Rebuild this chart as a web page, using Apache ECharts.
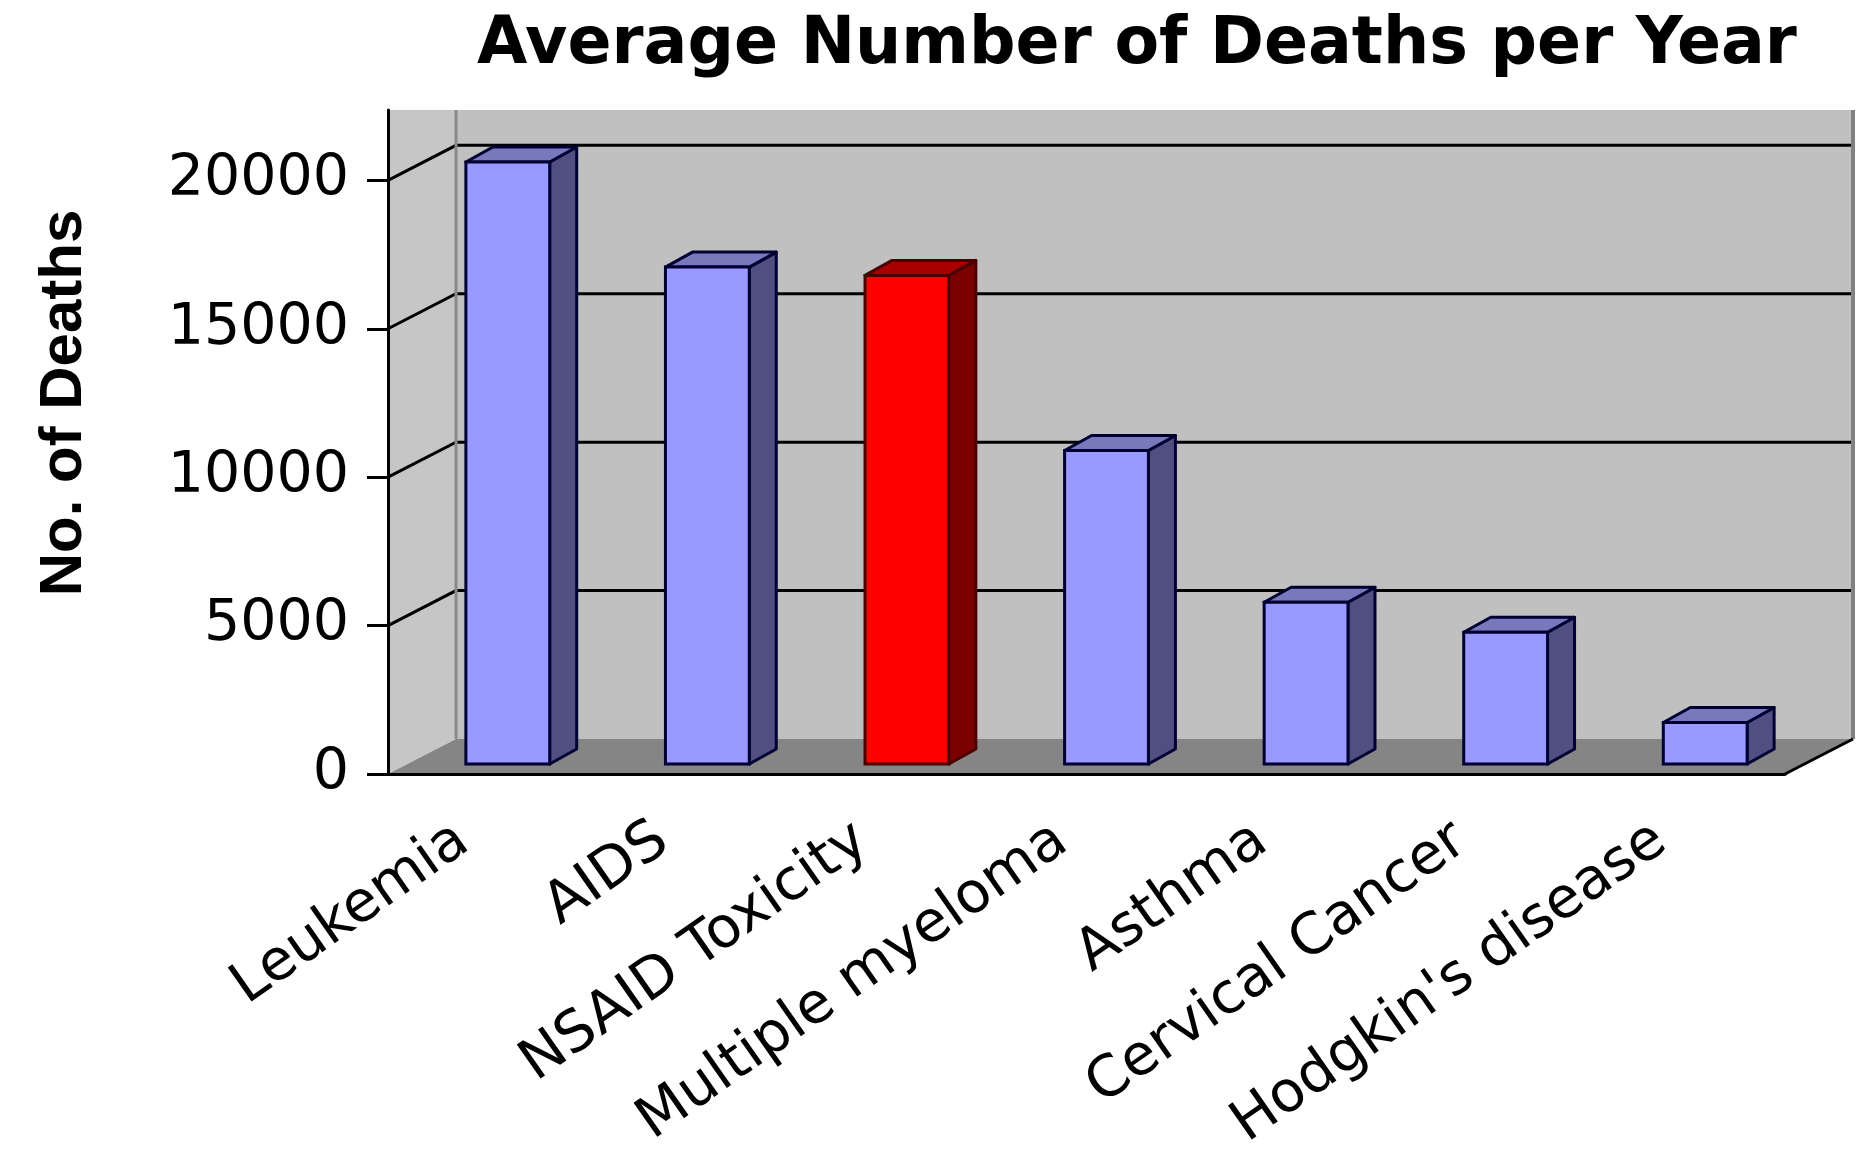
<!DOCTYPE html>
<html>
<head>
<meta charset="utf-8">
<title>Average Number of Deaths per Year</title>
<script src="https://cdn.jsdelivr.net/npm/echarts@6/dist/echarts.min.js"></script>
<style>
  html, body { margin: 0; padding: 0; background: #fff; }
  #chart { width: 1870px; height: 1150px; }
</style>
</head>
<body>
<div id="chart"></div>
<script>
const categories = [
  'Leukemia',
  'AIDS',
  'NSAID Toxicity',
  'Multiple myeloma',
  'Asthma',
  'Cervical Cancer',
  "Hodgkin's disease"
];
const deaths = [20280, 16740, 16460, 10560, 5450, 4440, 1400];
const highlightIndex = 2; // NSAID bar is drawn red
const yTicks = [0, 5000, 10000, 15000, 20000];
const yMax = 22370;

// fake 3d: depth of the walls and of the columns, in px
const WALL_DX = 68, WALL_DY = -35;
const BAR_OFF_DX = 20, BAR_OFF_DY = -10;
const BAR_DX = 27, BAR_DY = -15;

const chart = echarts.init(document.getElementById('chart'));

function renderFrame(params, api) {
  const cs = params.coordSys;
  const x0 = cs.x, x1 = cs.x + cs.width;
  const yTop = cs.y, yBase = cs.y + cs.height;
  const children = [];
  // left side wall
  children.push({
    type: 'polygon',
    shape: { points: [[x0, yTop], [x0 + WALL_DX, yTop], [x0 + WALL_DX, yBase + WALL_DY], [x0, yBase]] },
    style: { fill: '#c6c6c6' }
  });
  // back wall
  children.push({
    type: 'rect',
    shape: { x: x0 + WALL_DX, y: yTop, width: cs.width, height: yBase + WALL_DY - yTop },
    style: { fill: '#c0c0c0' }
  });
  // floor
  children.push({
    type: 'polygon',
    shape: { points: [[x0, yBase], [x1, yBase], [x1 + WALL_DX, yBase + WALL_DY], [x0 + WALL_DX, yBase + WALL_DY]] },
    style: { fill: '#858585' }
  });
  // gridlines on side wall + back wall
  yTicks.slice(1).forEach(v => {
    const y = api.coord([0, v])[1];
    children.push({
      type: 'polyline',
      shape: { points: [[x0, y], [x0 + WALL_DX, y + WALL_DY], [x1 + WALL_DX, y + WALL_DY]] },
      style: { stroke: '#000', lineWidth: 3, fill: null }
    });
  });
  // back corner edges
  children.push({
    type: 'line',
    shape: { x1: x0 + WALL_DX, y1: yTop, x2: x0 + WALL_DX, y2: yBase + WALL_DY },
    style: { stroke: '#8a8a8a', lineWidth: 3 }
  });
  children.push({
    type: 'line',
    shape: { x1: x1 + WALL_DX, y1: yTop, x2: x1 + WALL_DX, y2: yBase + WALL_DY },
    style: { stroke: '#808080', lineWidth: 4 }
  });
  children.push({
    type: 'line',
    shape: { x1: x1, y1: yBase, x2: x1 + WALL_DX, y2: yBase + WALL_DY },
    style: { stroke: '#000', lineWidth: 3 }
  });
  return { type: 'group', children };
}

function renderColumn(params, api) {
  const idx = api.value(0);
  const base = api.coord([idx, 0]);
  const top = api.coord([idx, api.value(1)]);
  const w = api.size([1, 0])[0] * 0.42;
  const red = params.dataIndex === highlightIndex;
  const fl = base[0] + BAR_OFF_DX - w / 2, fr = fl + w;
  const ft = top[1] + BAR_OFF_DY, fb = base[1] + BAR_OFF_DY;
  const stroke = red ? '#4a0000' : '#000033';
  return {
    type: 'group',
    children: [
      {
        type: 'polygon',
        shape: { points: [[fr, ft], [fr + BAR_DX, ft + BAR_DY], [fr + BAR_DX, fb + BAR_DY], [fr, fb]] },
        style: { fill: red ? '#7d0000' : '#4f4f82', stroke, lineWidth: 3, lineJoin: 'round' }
      },
      {
        type: 'polygon',
        shape: { points: [[fl, ft], [fr, ft], [fr + BAR_DX, ft + BAR_DY], [fl + BAR_DX, ft + BAR_DY]] },
        style: { fill: red ? '#a80000' : '#7878bc', stroke, lineWidth: 3, lineJoin: 'round' }
      },
      {
        type: 'rect',
        shape: { x: fl, y: ft, width: w, height: fb - ft },
        style: { fill: red ? '#ff0000' : '#9999ff', stroke, lineWidth: 3 }
      }
    ]
  };
}

chart.setOption({
  backgroundColor: '#fff',
  animation: false,
  title: {
    text: 'Average Number of Deaths per Year',
    left: 1132,
    top: 9,
    textAlign: 'center',
    textStyle: {
      fontFamily: 'DejaVu Sans',
      fontWeight: 'bold',
      fontSize: 65,
      color: '#000'
    }
  },
  grid: { left: 388, right: 85, top: 110, bottom: 376, containLabel: false, outerBoundsMode: 'none' },
  xAxis: {
    type: 'category',
    data: categories,
    boundaryGap: true,
    z: 10,
    axisLine: { lineStyle: { color: '#000', width: 3 } },
    axisTick: { length: 18, lineStyle: { color: '#000', width: 3 } },
    axisLabel: {
      interval: 0,
      rotate: 35,
      margin: 44,
      padding: [0, 30, 0, 0],
      fontFamily: 'DejaVu Sans',
      fontSize: 57,
      color: '#000'
    },
    splitLine: { show: false }
  },
  yAxis: {
    type: 'value',
    min: 0,
    max: yMax,
    z: 10,
    name: 'No. of Deaths',
    nameLocation: 'middle',
    nameRotate: 90,
    nameGap: 294,
    nameTextStyle: {
      fontFamily: 'Liberation Sans',
      fontWeight: 'bold',
      fontSize: 60,
      color: '#000',
      padding: [0, 0, 0, 78]
    },
    axisLine: { show: true, lineStyle: { color: '#000', width: 3 } },
    axisTick: { show: true, length: 21, customValues: yTicks, lineStyle: { color: '#000', width: 3 } },
    axisLabel: {
      customValues: yTicks,
      formatter: v => String(v),
      margin: 39,
      fontFamily: 'DejaVu Sans',
      fontSize: 57,
      color: '#000'
    },
    splitLine: { show: false }
  },
  series: [
    {
      type: 'custom',
      name: 'frame',
      z: 1,
      silent: true,
      renderItem: renderFrame,
      data: [[0, 0]]
    },
    {
      type: 'custom',
      name: 'Deaths',
      z: 2,
      renderItem: renderColumn,
      encode: { x: 0, y: 1 },
      data: deaths.map((d, i) => [i, d])
    }
  ]
});
</script>
</body>
</html>
